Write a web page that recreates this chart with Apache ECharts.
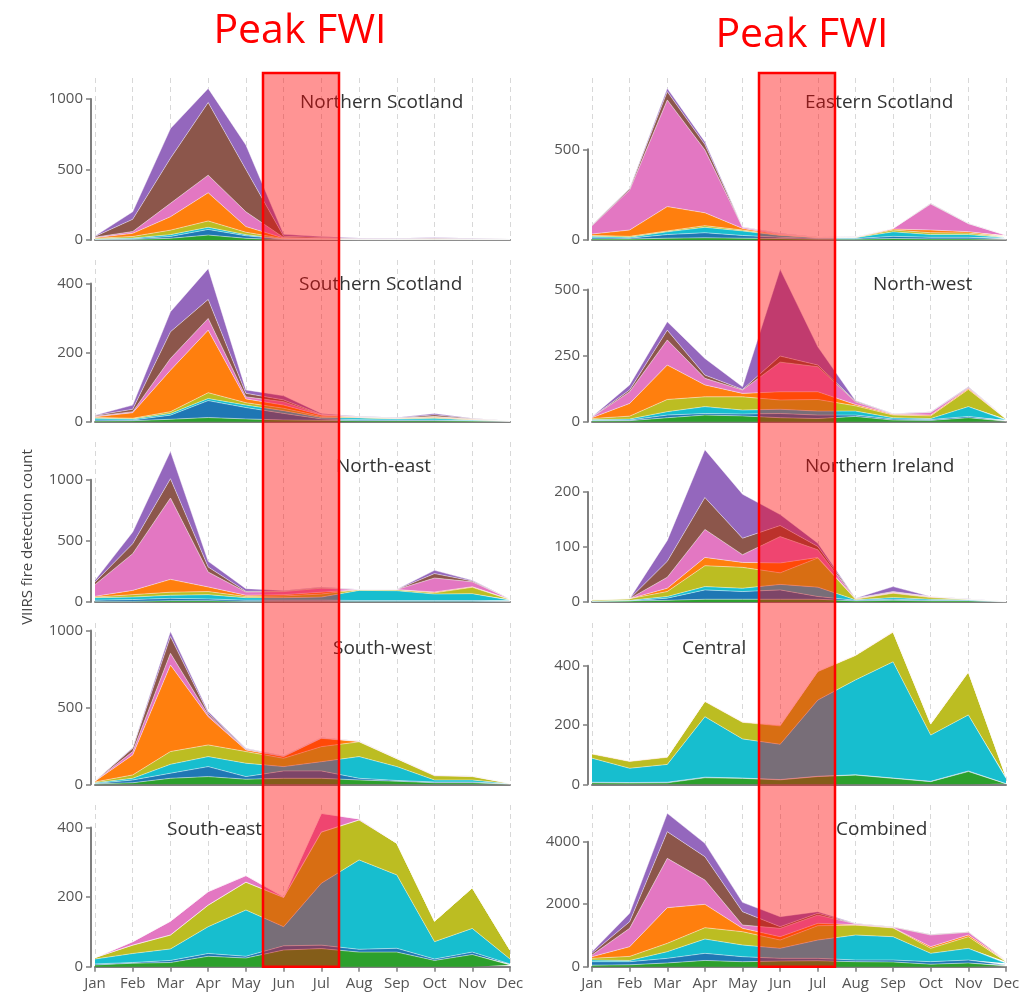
<!DOCTYPE html>
<html><head><meta charset="utf-8">
<script src="https://cdn.jsdelivr.net/npm/echarts@6/dist/echarts.min.js"></script>
<style>html,body{margin:0;padding:0;background:#fff}#chart{width:1024px;height:996px}</style>
</head><body><div id="chart"></div>
<script>
const months = ['Jan','Feb','Mar','Apr','May','Jun','Jul','Aug','Sep','Oct','Nov','Dec'];
const coverClasses = ['Cover class 1','Cover class 2','Cover class 3','Cover class 4','Cover class 5','Cover class 6','Cover class 7','Cover class 8'];
const coverColors = ['#2ca02c','#1f77b4','#17becf','#bcbd22','#ff7f0e','#e377c2','#8c564b','#9467bd'];

// each region: one row per cover class (bottom to top of the stack), Jan..Dec
const northernScotland = [
  [2,4,12,35,12,2,2,1,1,1,1,1],
  [2,4,13,40,18,3,2,1,1,1,1,1],
  [3,6,13,15,8,2,1,1,1,1,1,1],
  [5,11,32,45,17,3,2,1,1,2,1,1],
  [4,22,95,200,40,4,2,2,1,2,1,1],
  [4,13,95,125,105,4,3,2,2,3,2,1],
  [5,87,320,515,300,8,6,3,2,4,2,2],
  [3,53,210,100,174,14,7,4,3,4,3,2]
];
const easternScotland = [
  [5,5,10,12,10,8,4,4,8,6,6,3],
  [7,5,20,28,15,7,4,4,12,9,9,3],
  [8,5,15,30,25,10,4,5,25,15,15,6],
  [5,5,5,9,5,3,1,1,10,10,8,3],
  [8,35,134,71,9,2,1,1,5,15,8,5],
  [45,220,588,346,6,3,1,1,3,143,44,6],
  [3,7,46,30,2,2,1,1,1,3,1,1],
  [2,3,18,16,1,2,1,1,0,1,1,1]
];
const southernScotland = [
  [2,3,7,12,8,5,4,3,3,3,2,1],
  [3,2,12,49,33,19,4,3,2,2,1,0],
  [5,3,5,6,7,8,4,5,3,5,2,1],
  [2,2,5,17,7,7,3,1,1,2,1,0],
  [2,16,120,181,11,9,4,1,1,2,1,0],
  [2,3,34,34,6,10,1,1,0,1,1,1],
  [2,7,77,55,10,5,1,1,1,5,1,0],
  [1,12,58,89,10,12,3,1,1,4,1,0]
];
const northWest = [
  [3,4,15,25,22,15,12,20,6,5,15,2],
  [2,2,10,6,7,16,13,5,4,3,5,2],
  [3,4,13,26,15,16,15,15,5,4,37,2],
  [4,11,46,37,50,35,44,20,10,10,65,4],
  [3,48,130,45,13,31,29,5,3,3,3,1],
  [2,44,95,25,13,112,95,10,1,10,3,1],
  [1,7,37,12,2,23,6,3,1,1,2,0],
  [1,19,32,63,10,328,69,2,1,2,2,1]
];
const northEast = [
  [5,5,10,10,5,5,5,5,5,5,5,2],
  [10,15,20,15,10,10,10,7,7,7,7,3],
  [20,20,25,35,20,20,25,83,80,53,56,10],
  [5,20,25,25,10,15,25,5,8,10,52,5],
  [6,35,105,38,10,10,15,1,1,7,5,2],
  [96,300,665,122,27,25,33,1,1,114,40,3],
  [21,82,158,41,5,5,5,1,1,36,7,1],
  [14,95,224,47,22,5,5,1,1,27,5,1]
];
const northernIreland = [
  [1,2,3,5,5,5,5,2,3,2,2,0],
  [0,0,4,17,14,17,5,1,2,1,1,0],
  [1,1,3,6,6,10,17,1,3,2,1,1],
  [2,3,9,38,38,21,53,1,8,3,1,0],
  [0,0,6,15,9,18,1,1,1,1,0,0],
  [0,0,20,51,14,48,14,0,1,1,0,0],
  [0,0,29,58,30,20,6,1,1,0,0,0],
  [0,0,38,87,80,20,6,0,9,0,1,0]
];
const southWest = [
  [3,10,39,50,33,39,39,28,20,10,10,1],
  [2,18,33,65,17,48,48,11,5,5,5,1],
  [5,11,58,65,87,28,60,141,90,13,13,2],
  [5,22,83,76,76,54,98,96,51,27,22,2],
  [5,130,563,184,10,11,54,2,1,3,2,0],
  [1,22,76,11,5,3,2,2,1,2,1,1],
  [1,21,109,11,4,2,2,1,1,1,1,0],
  [0,5,32,11,2,1,1,1,0,0,0,0]
];
const central = [
  [5,4,5,22,20,15,26,31,20,9,43,2],
  [2,2,2,2,1,1,1,1,1,1,2,0],
  [81,48,60,204,132,119,257,320,392,156,189,18],
  [14,23,24,51,56,62,96,82,100,37,144,5],
  [2,2,2,2,2,3,2,2,2,2,2,1],
  [0,0,0,0,0,0,0,0,0,0,0,0],
  [0,0,0,0,0,0,0,0,0,0,0,0],
  [0,0,0,0,0,0,0,0,0,0,0,0]
];
const southEast = [
  [5,10,12,30,25,48,52,42,42,18,35,5],
  [3,2,6,8,5,12,10,8,11,4,7,3],
  [14,26,33,77,133,55,178,257,211,50,68,14],
  [4,24,40,62,80,84,147,115,91,59,117,26],
  [0,0,0,0,0,0,0,0,0,0,0,0],
  [0,10,40,39,19,2,54,3,0,0,0,0],
  [0,0,0,0,0,0,0,0,0,0,0,0],
  [0,0,0,0,0,0,0,0,0,0,0,0]
];
const combined = [
  [50,60,120,200,160,180,190,160,150,80,120,20],
  [110,100,147,227,160,87,77,53,63,80,93,33],
  [53,40,213,458,373,320,586,800,747,267,374,54],
  [54,130,267,363,427,266,459,317,280,160,373,53],
  [53,310,1141,747,107,107,75,15,10,53,53,25],
  [53,587,1579,778,106,267,266,30,15,373,87,20],
  [54,213,853,747,427,53,54,7,10,17,15,5],
  [53,267,587,427,299,320,53,5,5,5,5,3]
];

const regionNames = ['Northern Scotland','Eastern Scotland','Southern Scotland','North-west','North-east','Northern Ireland','South-west','Central','South-east','Combined'];
const regionData = [northernScotland,easternScotland,southernScotland,northWest,northEast,northernIreland,southWest,central,southEast,combined];
const yMaxes = [1149,893,468,611,1308,291,1049,544,465,5174];
const yTickMax = [1000,500,400,500,1000,200,1000,400,400,4000];
const yTickStep = [500,500,200,250,500,100,500,200,200,2000];

// layout
const colLeft = [95,592], colWidth = [415,414];
const rowTop = [78,260,442,623,805], rowBottom = [240,421.7,602,784.3,966.7];
const titlePos = [[300,101],[805,101],[299,283],[873,283],[336,465],[805,465],[333,647],[682,647],[167,828],[836,828]];

const FONT = '"Open Sans", "Noto Sans", sans-serif';
const grid = [], xAxis = [], yAxis = [], series = [], graphic = [];
const axisGrey = '#7f7f7f';

regionNames.forEach((name, i) => {
  const col = i % 2, row = Math.floor(i / 2);
  const top = rowTop[row], h = rowBottom[row] - rowTop[row];
  const isBottom = row === 4;
  grid.push({left: colLeft[col], top: top, width: colWidth[col], height: h, containLabel: false});
  const gi = grid.length - 1;
  xAxis.push({
    type: 'category', gridIndex: gi, data: months, boundaryGap: false,
    axisLine: {show: true, lineStyle: {color: axisGrey, width: 2}},
    axisTick: {show: isBottom, interval: 0, length: 5, lineStyle: {color: axisGrey, width: 1.5}},
    axisLabel: {show: isBottom, interval: 0, color: '#555', fontSize: 15, fontFamily: FONT, margin: 10},
    splitLine: {show: true, interval: 0, lineStyle: {color: '#d8d8d8', type: [5, 4], width: 1}}
  });
  yAxis.push({type: 'value', gridIndex: gi, min: 0, max: yMaxes[i], show: false, splitLine: {show: false}});
  const axIdx = xAxis.length - 1;
  regionData[i].forEach((vals, k) => {
    series.push({
      type: 'line', name: coverClasses[k], xAxisIndex: axIdx, yAxisIndex: axIdx,
      stack: 'region' + i, data: vals, symbol: 'none', smooth: false,
      lineStyle: {width: 0.8, color: 'rgba(255,255,255,0.55)'},
      areaStyle: {color: coverColors[k], opacity: 1},
      itemStyle: {color: coverColors[k]},
      emphasis: {disabled: true}, z: 2
    });
  });
  const th = h * yTickMax[i] / yMaxes[i];
  grid.push({left: colLeft[col], top: rowBottom[row] - th, width: colWidth[col], height: th});
  const ag = grid.length - 1;
  xAxis.push({type: 'category', gridIndex: ag, data: months, show: false});
  yAxis.push({
    type: 'value', gridIndex: ag, min: 0, max: yTickMax[i], interval: yTickStep[i], offset: 4,
    axisLine: {show: true, lineStyle: {color: axisGrey, width: 2}},
    axisTick: {show: true, length: 5, lineStyle: {color: axisGrey, width: 1.5}},
    axisLabel: {color: '#555', fontSize: 15, fontFamily: FONT, margin: 8, formatter: v => String(v)},
    splitLine: {show: false}
  });
  graphic.push({
    type: 'text', left: titlePos[i][0], top: titlePos[i][1] - 8, z: 50,
    style: {text: name, fill: '#333', font: '19px ' + FONT}
  });
});

// peak FWI highlight
[[263, 339, 300, 31], [759, 835, 802, 35]].forEach(r => {
  graphic.push({
    type: 'rect', z: 100,
    shape: {x: r[0], y: 73, width: r[1] - r[0], height: 966.7 - 73},
    style: {fill: 'rgba(255,0,0,0.42)', stroke: '#ff0000', lineWidth: 2.5}
  });
  graphic.push({
    type: 'text', z: 101, x: r[2], y: r[3],
    style: {text: 'Peak FWI', fill: '#ff0000', font: '41px ' + FONT, textAlign: 'center', textVerticalAlign: 'middle'}
  });
});
graphic.push({
  type: 'text', z: 50, x: 28, y: 537, rotation: Math.PI / 2,
  style: {text: 'VIIRS fire detection count', fill: '#444', font: '15px ' + FONT, textAlign: 'center', textVerticalAlign: 'middle'}
});

const chart = echarts.init(document.getElementById('chart'), null, {renderer: 'canvas'});
chart.setOption({
  animation: false, backgroundColor: '#fff',
  grid, xAxis, yAxis, series, graphic
});
</script></body></html>
